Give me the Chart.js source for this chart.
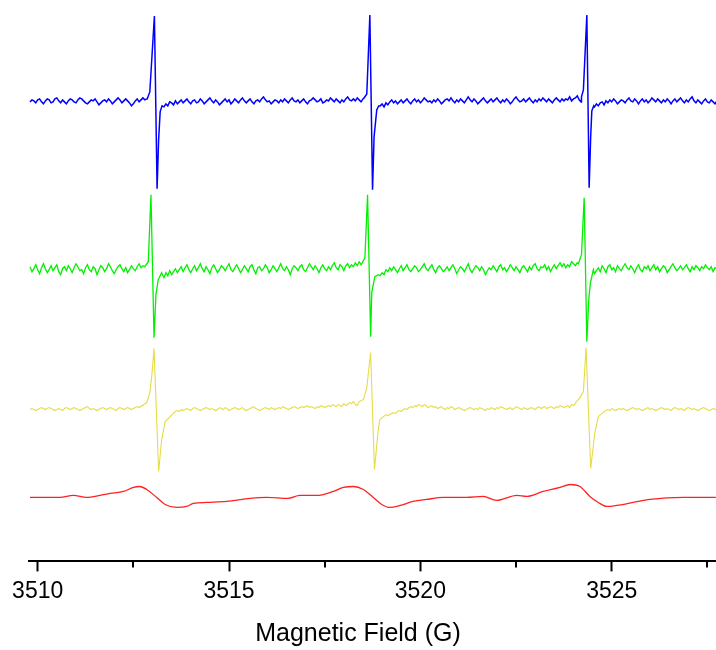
<!DOCTYPE html>
<html>
<head>
<meta charset="utf-8">
<script src="https://cdn.jsdelivr.net/npm/chart.js@4.4.1/dist/chart.umd.min.js"></script>
<style>
  html, body { margin: 0; padding: 0; background: #fff; }
  canvas { display: block; }
</style>
</head>
<body>
<canvas id="epr" width="716" height="650"></canvas>
<script>
/* ------------------------------------------------------------------ */
/* Data                                                               */
/* ------------------------------------------------------------------ */
// noise is sampled every 0.05 G from 3509.8 G
const fieldStart = 3509.8, fieldStep = 0.05;
const majorTicks = [3510, 3515, 3520, 3525];
const minorTicks = [3512.5, 3517.5, 3522.5, 3527.5];

const traceColors  = ['#0000ff', '#00f000', '#e6dc46', '#ff2020'];
const traceWidths  = [1.5, 1.3, 1.1, 1.3];
const traceOffsets = [460, 292, 152, 64];

const blueNoise = [
  0, 2, 1, -1, 2, 3, 0, -2, 1, 3,
  2, -1, 0, 3, 4, 1, -1, 2, 0, -2,
  1, 3, 2, 0, -1, 2, 4, 3, 1, -1,
  -2, 0, 2, 1, 3, 0, -3, -1, 1, 2,
  0, 3, 1, -2, 0, 2, 4, 2, -1, 1,
  3, 1, -1, -4, -2, 1, 3, 0, 2, 4,
  2, 3, 0, 0, 0, 0, 0, 0, 0, 0,
  -5, -2, -4, 0, -1, -3, 1, -2, 0, 2,
  -1, 1, 3, 0, -2, 1, 2, -1, 0, 3,
  1, -2, 0, 2, 4, 1, -1, 2, 0, -3,
  -1, 1, 3, 0, 2, -2, 0, 3, 1, -1,
  2, 4, 1, -1, 1, 3, 0, -2, 1, 2,
  0, 3, 5, 2, 0, 1, -2, 0, 2, 1,
  -1, 2, 0, 3, 1, -1, 2, 4, 1, 0,
  2, -1, 1, 3, 0, -2, 1, 2, 4, 2,
  0, 1, 3, -1, 0, 2, 1, 4, 2, 0,
  3, 1, -1, 2, 0, 3, 5, 2, 1, 3,
  1, 4, 2, 0, 3, 0, 0, 0, 0, 0,
  0, 0, 0, -4, -2, -5, -1, -3, 0, 2,
  -1, 1, -2, 0, 2, -1, 1, 3, 0, -2,
  1, 3, 0, 2, -1, 1, 4, 2, 0, 1,
  -1, 2, 0, 3, 1, -2, 0, 2, 3, 1,
  4, 1, -1, 2, 0, 3, 1, -1, 2, 5,
  2, 0, 3, 1, -2, 0, 2, 4, 1, -1,
  1, 3, 0, 2, 4, 1, -1, 2, 0, 3,
  1, -2, 0, 3, 5, 2, 0, 1, 3, 0,
  2, 4, 1, -1, 2, 0, 3, 1, 4, 2,
  0, 3, 1, -1, 2, 4, 2, 0, 3, 1,
  3, 2, 5, 1, 3, 4, 6, 2, 0, 0,
  0, 0, 0, 0, 0, -5, -2, -4, -1, 0,
  -3, 1, -1, 2, 0, 3, 1, -2, 0, 2,
  1, -1, 2, 4, 1, 0, 3, 1, -2, 1,
  3, 0, 2, -1, 1, 4, 2, 0, 3, 1,
  -1, 2, 0, 3, 1, -2, 1, 3, 0, 2,
  4, 1, -1, 2, 0, 3, 5, 1, -1, 2,
  0, -2, 1, 3, 0, -1, 2, 0, -2, 1
];
const blueLines = [
  [[3512.86, 3], [3512.93, 10], [3513.05, 86], [3513.12, -87], [3513.16, -38], [3513.20, -10], [3513.25, -4]],
  [[3518.53, 4], [3518.60, 8], [3518.68, 87], [3518.75, -88], [3518.79, -35], [3518.86, -8], [3518.91, -4]],
  [[3524.21, 5], [3524.26, 12], [3524.35, 87], [3524.41, -86], [3524.45, -35], [3524.48, -9], [3524.53, -4]]
];

const greenNoise = [
  3, -2, 1, 5, 0, -4, 2, 6, 1, -3,
  0, 4, -1, 2, 5, -2, -5, 1, 3, -1,
  4, 1, -3, 2, 6, 3, -1, 0, -4, 2,
  5, 0, -2, 3, 1, -5, 0, 4, 2, -2,
  1, 6, 3, -1, -4, 0, 3, 5, 1, -2,
  2, -3, 0, 4, 1, -1, 3, 6, 2, 4,
  0, 0, 0, 0, 0, 0, 0, 0, 0, -4,
  -8, -3, -6, -1, -5, -2, 1, -3, 0, 3,
  -2, 2, 5, 0, -3, 1, 4, -1, 2, 6,
  1, -2, 3, 0, -4, 2, 5, 1, -3, 0,
  4, 2, -1, 3, 6, 0, -2, 2, 5, 1,
  -3, 0, 4, 1, -2, 3, 5, 0, -4, 2,
  3, -1, 1, 5, 2, -3, 0, 4, 1, -2,
  2, 6, 1, -1, 3, 0, -5, 1, 4, 2,
  -1, 3, 5, 0, -2, 2, 6, 3, 0, 4,
  1, -3, 2, 5, 1, -1, 3, 0, 4, 7,
  2, 0, 5, 3, -1, 4, 6, 2, 5, 3,
  7, 4, 8, 5, 0, 0, 0, 0, 0, 0,
  0, 0, 0, -6, -3, -5, 0, -2, 2, -1,
  3, 0, -3, 1, 4, -1, 2, 5, 0, -2,
  1, 4, 2, -2, 0, 3, 6, 1, -1, 2,
  5, 0, -3, 2, 4, 1, -2, 0, 3, -1,
  2, 5, 1, -4, 0, 3, 1, -2, 2, 6,
  0, -3, 1, 4, 2, -1, 3, 0, -5, -1,
  2, 0, 4, 1, -2, 3, 5, 0, 2, -2,
  1, 5, 2, -1, 3, 0, -3, 2, 4, 1,
  -2, 3, 0, 4, 6, 1, -1, 3, 2, 5,
  0, 3, -2, 2, 5, 1, 4, 7, 3, 6,
  2, 5, 3, 8, 6, 4, 7, 0, 0, 0,
  0, 0, 0, 0, 0, -4, -1, 2, -2, 4,
  1, -3, 3, 5, 0, 2, -2, 4, 1, -1,
  3, 6, 2, 0, 4, 1, -3, 2, 5, 0,
  -2, 3, 1, 4, -1, 2, 5, 0, 3, -2,
  1, 4, 2, -3, 0, 3, 6, 2, -1, 1,
  4, 0, 2, 5, 1, -2, 3, 0, 4, 2,
  -1, 3, 1, 5, 2, 0, 3, -2, 2, 1
];
const greenLines = [
  [[3512.80, 3], [3512.89, 8], [3512.96, 75], [3513.04, -68], [3513.09, -25], [3513.15, -10], [3513.24, -3]],
  [[3518.47, 5], [3518.55, 12], [3518.62, 75], [3518.70, -67], [3518.73, -23], [3518.81, -7], [3518.90, -5]],
  [[3524.13, 6], [3524.21, 15], [3524.28, 72], [3524.35, -72], [3524.40, -30], [3524.44, -14], [3524.52, 0]]
];

const yellowNoise = [
  0, 1, 0, -1, 0, 1, 2, 1, 0, 1,
  2, 1, 0, -1, 0, 1, 0, -1, 1, 2,
  1, 0, 1, 2, 1, 0, -1, 0, 1, 2,
  3, 1, 0, 1, 0, -1, 0, 1, 2, 1,
  0, 1, 2, 1, 0, -1, 1, 2, 1, 0,
  1, 2, 1, 0, 1, 2, 3, 2, 0, 0,
  0, 0, 0, 0, 0, 0, 0, 0, 0, 0,
  0, 0, 0, 0, 0, 0, -2, -1, -2, 0,
  -1, 0, 1, 0, -1, 1, 2, 1, 0, -1,
  0, 1, 2, 1, 0, 1, 0, -1, 0, 2,
  1, 0, 2, 1, -1, 0, 1, 2, 1, 0,
  1, 2, 0, -1, 0, 1, 2, 3, 1, 0,
  -1, 0, 1, 2, 1, 0, 2, 1, 0, 1,
  2, 1, 3, 2, 1, 0, 1, 2, 3, 2,
  1, 2, 3, 2, 3, 4, 2, 3, 2, 1,
  3, 2, 4, 3, 2, 3, 4, 3, 5, 4,
  3, 5, 4, 3, 6, 4, 5, 7, 6, 8,
  5, 4, 0, 0, 0, 0, 0, 0, 0, 0,
  0, 0, 0, 0, 0, 0, -5, -6, -5, -4,
  -3, -4, -2, -1, -2, 0, 1, 0, 2, 3,
  2, 4, 3, 5, 4, 3, 5, 4, 2, 3,
  4, 2, 3, 1, 2, 3, 1, 0, 2, 1,
  3, 2, 0, 1, 2, 1, 0, -1, 0, 1,
  2, 1, 0, 1, 0, 2, 1, 0, -1, 1,
  0, 2, 1, 0, 2, 1, 3, 2, 1, 0,
  1, 2, 0, 1, 3, 2, 1, 0, 2, 1,
  0, 1, 2, 1, 0, 2, 3, 1, 2, 3,
  1, 2, 3, 2, 1, 3, 2, 4, 3, 2,
  3, 4, 2, 5, 4, 6, 0, 0, 0, 0,
  0, 0, 0, 0, 0, 0, 0, 0, 0, 0,
  -2, -1, 0, -1, 1, 0, -1, 0, 1, 0,
  1, 0, -1, 0, 1, 2, 1, 0, 1, 0,
  -1, 0, 1, 2, 0, 1, 0, -1, 0, 1,
  2, 1, 0, 1, 0, -1, 1, 2, 1, 0,
  1, 0, -1, 1, 2, 1, 0, 1, 0, -1,
  0, 1, 2, 1, 0, -1, 0, 1, 0, 1
];
const yellowLines = [
  [[3512.67, 2], [3512.85, 7], [3512.93, 17], [3512.98, 33], [3513.04, 61], [3513.16, -62], [3513.24, -30], [3513.33, -12], [3513.46, -7], [3513.59, -2]],
  [[3518.40, 8], [3518.51, 10], [3518.60, 22], [3518.70, 57], [3518.80, -60], [3518.90, -20], [3518.94, -10], [3519.07, -6]],
  [[3524.08, 8], [3524.17, 12], [3524.26, 18], [3524.33, 62], [3524.45, -59], [3524.56, -23], [3524.65, -7], [3524.77, -3]]
];

// red trace is smooth, given as [field, signal]
const redCurve = [
  [3509.80, 0], [3510.32, 0], [3510.58, 0], [3510.93, 2], [3511.28, 0], [3511.63, 2],
  [3511.89, 4], [3512.24, 6], [3512.50, 10], [3512.67, 11], [3512.85, 8], [3513.11, 0],
  [3513.33, -7], [3513.63, -10], [3513.89, -9], [3514.07, -6], [3514.42, -5], [3514.94, -4],
  [3515.55, -1], [3515.98, 0], [3516.54, -1], [3516.85, 2], [3517.29, 2], [3517.72, 6],
  [3517.99, 10], [3518.25, 11], [3518.51, 8], [3518.77, 0], [3518.99, -7], [3519.21, -10],
  [3519.47, -8], [3519.81, -4], [3520.16, -2], [3520.60, 0], [3521.21, 0], [3521.64, 1],
  [3521.99, -3], [3522.52, 2], [3522.78, 1], [3523.21, 6], [3523.65, 10], [3523.91, 13],
  [3524.17, 11], [3524.43, 1], [3524.65, -5], [3524.87, -9], [3525.13, -8], [3525.56, -5],
  [3526.00, -2], [3526.87, 0], [3527.72, 0]
];

/* ------------------------------------------------------------------ */
/* Build points                                                       */
/* ------------------------------------------------------------------ */
function buildTrace(noise, lines, offset) {
  let pts = noise.map((v, i) => ({ x: +(fieldStart + i * fieldStep).toFixed(2), y: v + offset }));
  lines.forEach(g => {
    const a = g[0][0], b = g[g.length - 1][0];
    pts = pts.filter(p => p.x < a || p.x > b);
    g.forEach(([x, v]) => pts.push({ x, y: v + offset }));
  });
  return pts.sort((p, q) => p.x - q.x);
}

const traces = [
  buildTrace(blueNoise, blueLines, traceOffsets[0]),
  buildTrace(greenNoise, greenLines, traceOffsets[1]),
  buildTrace(yellowNoise, yellowLines, traceOffsets[2]),
  redCurve.map(([x, v]) => ({ x, y: v + traceOffsets[3] }))
];

/* minor ticks drawn from the x scale ------------------------------- */
const minorTickPlugin = {
  id: 'minorTicks',
  afterDraw(chart) {
    const sx = chart.scales.x, ctx = chart.ctx;
    ctx.save();
    ctx.strokeStyle = '#000';
    ctx.lineWidth = 2;
    minorTicks.forEach(v => {
      const px = Math.round(sx.getPixelForValue(v));
      ctx.beginPath();
      ctx.moveTo(px, sx.top);
      ctx.lineTo(px, sx.top + 6);
      ctx.stroke();
    });
    ctx.restore();
  }
};

const font = "'Liberation Sans', Arial, sans-serif";

new Chart(document.getElementById('epr'), {
  type: 'line',
  data: {
    datasets: traces.map((d, i) => ({
      data: d,
      borderColor: traceColors[i],
      borderWidth: traceWidths[i],
      pointRadius: 0,
      tension: 0,
      cubicInterpolationMode: i === 3 ? 'monotone' : 'default',
      fill: false
    }))
  },
  options: {
    responsive: false,
    animation: false,
    events: [],
    layout: { padding: 0 },
    plugins: {
      legend: { display: false },
      tooltip: { enabled: false },
      // centred on the whole canvas, like the original figure
      title: {
        display: true,
        position: 'bottom',
        fullSize: true,
        text: 'Magnetic Field (G)',
        color: '#000',
        font: { family: font, size: 25, weight: 'normal' },
        padding: { top: 8, bottom: 1 }
      }
    },
    scales: {
      x: {
        type: 'linear',
        min: 3509.773,
        max: 3527.725,
        afterBuildTicks: s => { s.ticks = majorTicks.map(v => ({ value: v })); },
        ticks: {
          color: '#000',
          font: { family: font, size: 23 },
          padding: 6,
          maxRotation: 0,
          autoSkip: false,
          callback: v => String(v)
        },
        grid: { drawOnChartArea: false, tickLength: 10, tickWidth: 2, tickColor: '#000' },
        border: { display: true, color: '#000', width: 2 }
      },
      y: {
        min: 0,
        max: 562,
        ticks: { display: false },
        grid: { display: false },
        border: { display: false },
        afterFit: s => { s.width = 29; }
      }
    }
  },
  plugins: [minorTickPlugin]
});
</script>
</body>
</html>
